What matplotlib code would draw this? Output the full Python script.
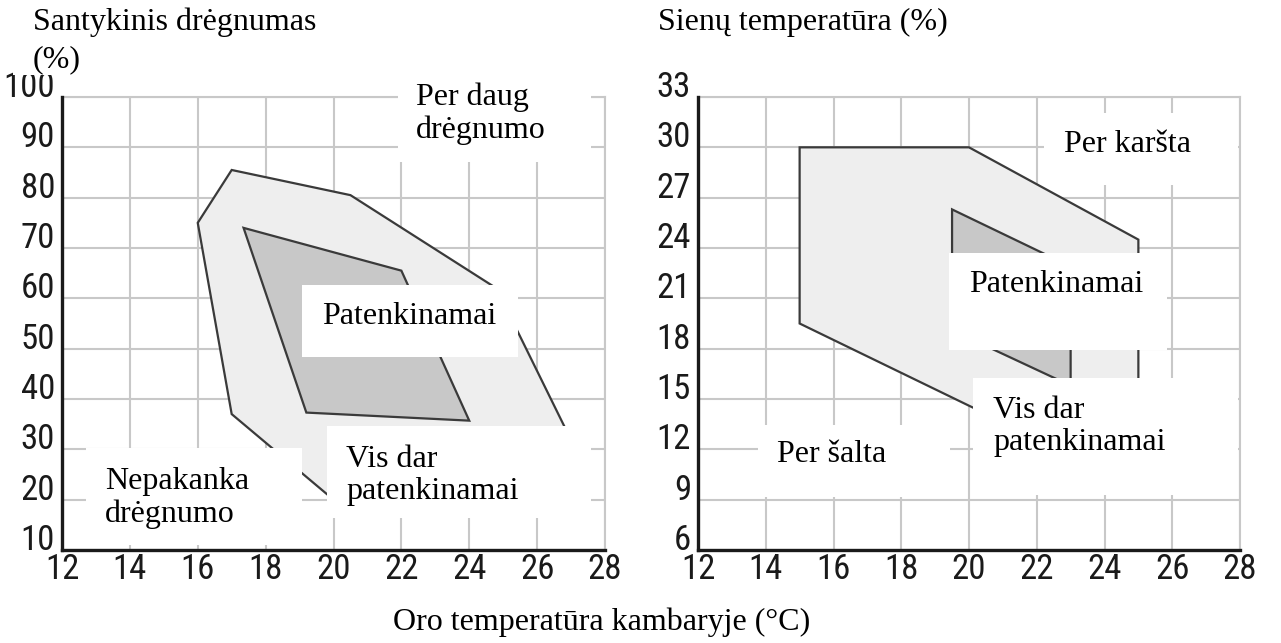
import matplotlib.pyplot as plt
from matplotlib.patches import Polygon, Rectangle

plt.rcParams['font.family'] = ['Liberation Serif', 'DejaVu Serif']
TICK_FONT = ['Roboto Condensed', 'Liberation Sans Narrow', 'Liberation Sans', 'DejaVu Sans']

# axis ticks
temp_ticks = [12, 14, 16, 18, 20, 22, 24, 26, 28]
rh_ticks = [10, 20, 30, 40, 50, 60, 70, 80, 90, 100]
wall_ticks = [6, 9, 12, 15, 18, 21, 24, 27, 30, 33]

# relative humidity chart (air temp, RH %)
rh_outer_t = [16, 17, 20.5, 24.8, 27.5, 20, 17]
rh_outer_v = [75, 85.5, 80.5, 62, 25, 20, 37]
rh_inner_t = [17.35, 22, 24, 19.2]
rh_inner_v = [74, 65.5, 35.7, 37.3]

# wall temperature chart (air temp, wall temp)
wall_outer_t = [15, 20, 25, 25, 20, 15]
wall_outer_v = [30, 30, 24.5, 9.8, 14.6, 19.5]
wall_inner_t = [19.5, 23, 23, 19.5]
wall_inner_v = [26.3, 22.9, 15.8, 19.1]

# labels: text, box (x0, x1, y0, y1), text anchor (x, y) in data units
rh_labels = [
    ("Per daug\ndrėgnumo", (21.9, 27.6, 87.1, 106.4), (22.43, 96.6)),
    ("Patenkinamai", (19.07, 25.44, 48.35, 62.65), (19.66, 56.3)),
    ("Nepakanka\ndrėgnumo", (12.71, 19.07, 11.0, 30.3), (13.27, 20.4)),
    ("Vis dar\npatenkinamai", (19.81, 27.59, 16.4, 34.6), (20.37, 24.8)),
]
wall_labels = [
    ("Per karšta", (22.21, 27.94, 27.75, 32.04), (22.8, 30.15)),
    ("Patenkinamai", (19.41, 25.84, 17.9, 23.7), (20.0, 21.85)),
    ("Vis dar\npatenkinamai", (20.12, 27.94, 9.28, 16.25), (20.71, 13.35)),
    ("Per šalta", (13.77, 19.44, 9.16, 13.45), (14.33, 11.7)),
]

W, H = 1281, 643
fig = plt.figure(figsize=(W / 100, H / 100), dpi=100)


def px_rect(x0, y0, x1, y1):
    return [x0 / W, 1 - y1 / H, (x1 - x0) / W, (y1 - y0) / H]


def draw_chart(ax, yticks, outer_t, outer_v, inner_t, inner_v, labels):
    ax.set_xlim(temp_ticks[0], temp_ticks[-1])
    ax.set_ylim(yticks[0], yticks[-1])
    ax.set_xticks(temp_ticks)
    ax.set_yticks(yticks)
    ax.grid(True, color='#c8c8c8', lw=1.5)
    ax.set_axisbelow(True)
    for s in ['top', 'right']:
        ax.spines[s].set_color('#c8c8c8')
        ax.spines[s].set_linewidth(1.5)
    for s in ['left', 'bottom']:
        ax.spines[s].set_color('#1a1a1a')
        ax.spines[s].set_linewidth(2.4)
        ax.spines[s].set_zorder(6)
    ax.tick_params(length=0, labelsize=25, colors='#1a1a1a', labelfontfamily=TICK_FONT)
    ax.tick_params(axis='x', pad=2)
    ax.tick_params(axis='y', pad=5)
    for lab in ax.get_yticklabels():
        lab.set_verticalalignment('baseline')

    ax.add_patch(Polygon(list(zip(outer_t, outer_v)), closed=True,
                         facecolor='#eeeeee', edgecolor='#3a3a3a', lw=1.6, zorder=1))
    ax.add_patch(Polygon(list(zip(inner_t, inner_v)), closed=True,
                         facecolor='#c8c8c8', edgecolor='#3a3a3a', lw=1.6, zorder=2))

    for text, (x0, x1, y0, y1), (tx, ty) in labels:
        ax.add_patch(Rectangle((x0, y0), x1 - x0, y1 - y0, facecolor='white',
                               edgecolor='none', zorder=4, clip_on=False))
        ax.text(tx, ty, text, fontsize=23, ha='left', va='center',
                linespacing=1.15, zorder=5, clip_on=False)


ax1 = fig.add_axes(px_rect(62, 97, 605, 550))
draw_chart(ax1, rh_ticks, rh_outer_t, rh_outer_v, rh_inner_t, rh_inner_v, rh_labels)

ax2 = fig.add_axes(px_rect(698, 97, 1240, 550))
draw_chart(ax2, wall_ticks, wall_outer_t, wall_outer_v, wall_inner_t, wall_inner_v, wall_labels)

# white strip behind "(%)" that hides the top of the "100" label
fig.add_artist(Rectangle((13 / W, 1 - 75 / H), 300 / W, 35 / H, transform=fig.transFigure,
                         facecolor='white', edgecolor='none', zorder=8))

fig.text(33 / W, 1 - 22 / H, "Santykinis drėgnumas", fontsize=23, va='center', zorder=9)
fig.text(33 / W, 1 - 60 / H, "(%)", fontsize=23, va='center', zorder=9)
fig.text(658 / W, 1 - 22 / H, "Sienų temperatūra (%)", fontsize=23, va='center', zorder=9)
fig.text(393 / W, 1 - 622 / H, "Oro temperatūra kambaryje (°C)", fontsize=23, va='center', zorder=9)

fig.savefig('out.png', dpi=100, facecolor='white')
